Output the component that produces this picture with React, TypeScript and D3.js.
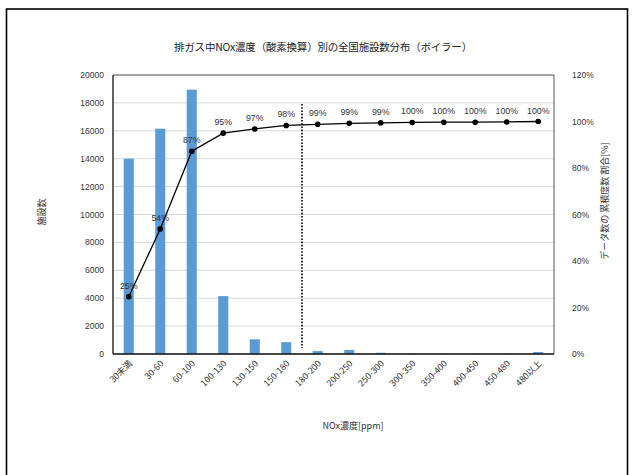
import React from "react";
import * as d3 from "d3";

// NOx concentration bins (ppm)
const categories = [
  "30未満", "30-60", "60-100", "100-130", "130-150", "150-180", "180-200",
  "200-250", "250-300", "300-350", "350-400", "400-450", "450-480", "480以上",
];
// Number of facilities per bin
const facilityCounts = [14000, 16150, 18950, 4150, 1050, 850, 210, 290, 90, 30, 20, 20, 15, 140];
// Cumulative share of facilities (%)
const cumulativeShare = [24.6, 53.8, 87.2, 95.0, 96.8, 98.3, 98.8, 99.2, 99.4, 99.6, 99.7, 99.7, 99.8, 100.0];

const leftTicks = [0, 2000, 4000, 6000, 8000, 10000, 12000, 14000, 16000, 18000, 20000];
const rightTicks = [0, 20, 40, 60, 80, 100, 120];

const title = "排ガス中NOx濃度（酸素換算）別の全国施設数分布（ボイラー）";
const xTitle = "NOx濃度[ppm]";
const yTitle = "施設数";
const y2Title = "データ数の 累積度数 割合[%]";
const thresholdBetween = ["150-180", "180-200"];

const W = 632;
const H = 475;
const M = { left: 113, right: 554, top: 75, bottom: 354 };

const JP = "'Noto Sans CJK JP', 'Noto Sans', sans-serif";
const NUM = "'Liberation Sans', Arial, sans-serif";

export default function App() {
  const x = d3.scaleBand<string>().domain(categories).range([M.left, M.right]).paddingInner(0.68).paddingOuter(0.34);
  const y = d3.scaleLinear().domain([0, 20000]).range([M.bottom, M.top]);
  const y2 = d3.scaleLinear().domain([0, 120]).range([M.bottom, M.top]);
  const cx = (c: string) => (x(c) ?? 0) + x.bandwidth() / 2;
  const fmt = (v: number) => `${Math.round(v)}%`;

  const line = d3
    .line<number>()
    .x((_, i) => cx(categories[i]))
    .y((d) => y2(d));

  const dividerX = (cx(thresholdBetween[0]) + cx(thresholdBetween[1])) / 2;

  return (
    <svg
      width={W}
      height={H}
      style={{ position: "absolute", left: 0, top: 0, display: "block", background: "#fff" }}
    >
      {/* outer frame */}
      <rect x={6.5} y={9} width={621} height={480} fill="none" stroke="#000" strokeWidth={1.6} />

      <text x={323} y={51} textAnchor="middle" fontFamily={JP} fontSize={10.5} fill="#222" letterSpacing={-0.2}>
        {title}
      </text>

      {/* gridlines */}
      {leftTicks.map((t) => (
        <line key={t} x1={M.left} x2={M.right} y1={y(t)} y2={y(t)} stroke="#d9d9d9" strokeWidth={1} />
      ))}

      {/* bars */}
      {facilityCounts.map((v, i) => (
        <rect
          key={categories[i]}
          x={x(categories[i])}
          y={y(v)}
          width={x.bandwidth()}
          height={M.bottom - y(v)}
          fill="#5b9bd5"
        />
      ))}

      {/* plot frame */}
      <line x1={M.left} x2={M.right} y1={M.top} y2={M.top} stroke="#595959" strokeWidth={1} />
      <line x1={M.right} x2={M.right} y1={M.top} y2={M.bottom} stroke="#595959" strokeWidth={1} />
      <line x1={M.left} x2={M.left} y1={M.top} y2={M.bottom} stroke="#111" strokeWidth={1.3} />
      <line x1={M.left} x2={M.right} y1={M.bottom} y2={M.bottom} stroke="#111" strokeWidth={1.3} />

      {/* threshold divider */}
      <line
        x1={dividerX}
        x2={dividerX}
        y1={104}
        y2={348}
        stroke="#000"
        strokeWidth={1.6}
        strokeDasharray="1.6 1.6"
      />

      {/* cumulative share line */}
      <path d={line(cumulativeShare) ?? ""} fill="none" stroke="#000" strokeWidth={1.3} />
      {cumulativeShare.map((v, i) => (
        <g key={categories[i]}>
          <circle cx={cx(categories[i])} cy={y2(v)} r={2.8} fill="#000" />
          <text
            x={cx(categories[i])}
            y={y2(v) - 8}
            textAnchor="middle"
            fontFamily={NUM}
            fontSize={8.8}
            fill="#333"
          >
            {fmt(v)}
          </text>
        </g>
      ))}

      {/* left axis ticks */}
      {leftTicks.map((t) => (
        <text key={t} x={104} y={y(t) + 3} textAnchor="end" fontFamily={NUM} fontSize={8.5} fill="#333">
          {t}
        </text>
      ))}
      {/* right axis ticks */}
      {rightTicks.map((t) => (
        <text key={t} x={572} y={y2(t) + 3} textAnchor="start" fontFamily={NUM} fontSize={8.5} fill="#333">
          {`${t}%`}
        </text>
      ))}

      {/* x tick labels */}
      {categories.map((c) => (
        <text
          key={c}
          transform={`translate(${cx(c) + 4},${M.bottom + 10}) rotate(-45)`}
          textAnchor="end"
          fontFamily={JP}
          fontSize={8.8}
          fill="#333"
        >
          {c}
        </text>
      ))}

      <text x={353} y={429} textAnchor="middle" fontFamily={JP} fontSize={9} fill="#333">
        {xTitle}
      </text>
      <text
        transform={`translate(${45},${212}) rotate(-90)`}
        textAnchor="middle"
        fontFamily={JP}
        fontSize={9}
        fill="#333"
      >
        {yTitle}
      </text>
      <text
        transform={`translate(${608},${201}) rotate(-90)`}
        textAnchor="middle"
        fontFamily={JP}
        fontSize={9}
        fill="#333"
      >
        {y2Title}
      </text>
    </svg>
  );
}
